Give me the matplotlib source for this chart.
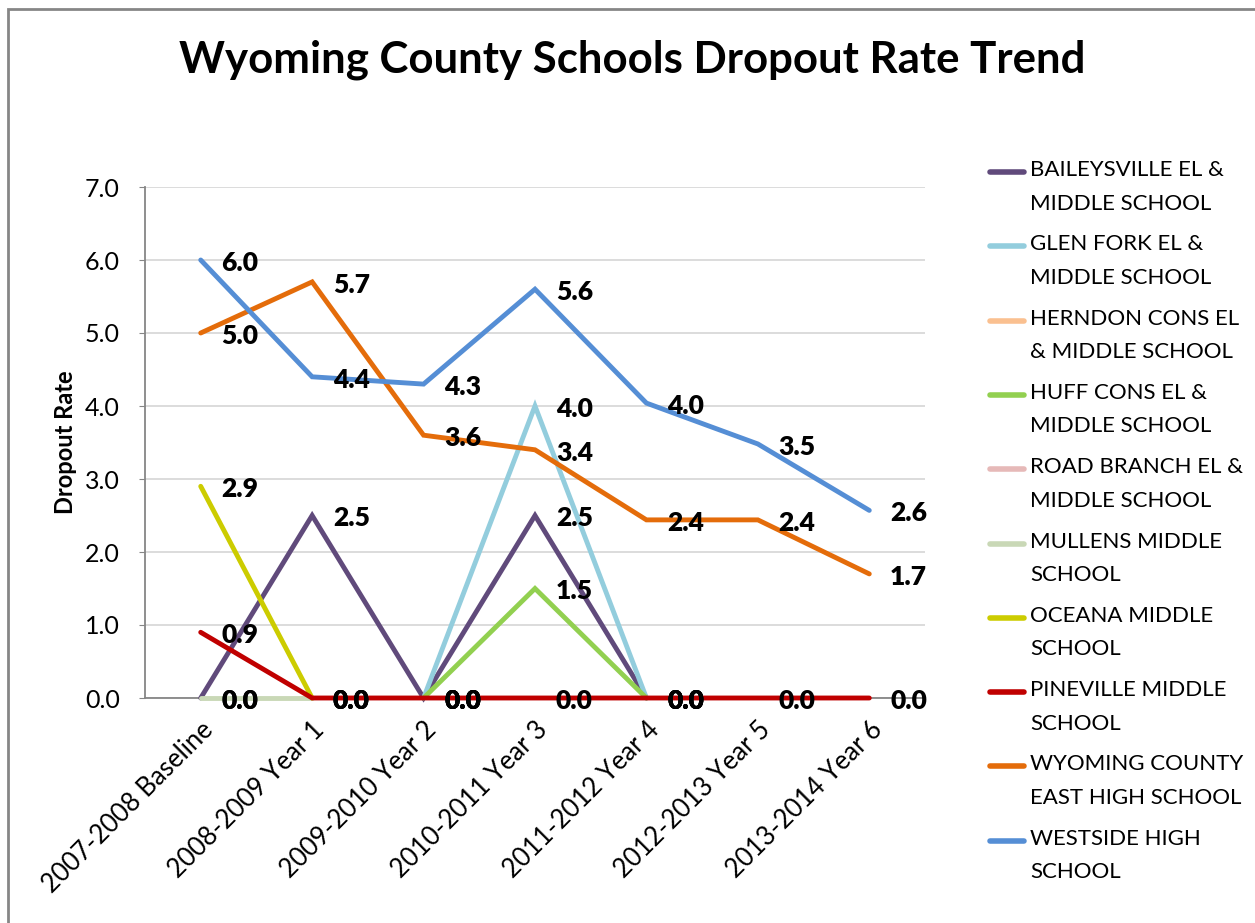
from matplotlib import pyplot as plt
from matplotlib.lines import Line2D
from matplotlib.patches import Rectangle
import numpy as np

plt.rcParams['font.family'] = ['Lato', 'DejaVu Sans']

nan = np.nan

# Chart data.
years = ['2007-2008 Baseline', '2008-2009 Year 1', '2009-2010 Year 2', '2010-2011 Year 3',
         '2011-2012 Year 4', '2012-2013 Year 5', '2013-2014 Year 6']

schools = ['BAILEYSVILLE EL &\nMIDDLE SCHOOL',
           'GLEN FORK EL &\nMIDDLE SCHOOL',
           'HERNDON CONS EL\n& MIDDLE SCHOOL',
           'HUFF CONS EL &\nMIDDLE SCHOOL',
           'ROAD BRANCH EL &\nMIDDLE SCHOOL',
           'MULLENS MIDDLE\nSCHOOL',
           'OCEANA MIDDLE\nSCHOOL',
           'PINEVILLE MIDDLE\nSCHOOL',
           'WYOMING COUNTY\nEAST HIGH SCHOOL',
           'WESTSIDE HIGH\nSCHOOL']

baileysville = [0.0, 2.5, 0.0, 2.5, 0.0, nan, nan]
glen_fork = [nan, nan, 0.0, 4.0, 0.0, nan, nan]
herndon = [nan, nan, nan, nan, nan, nan, nan]
huff = [nan, nan, 0.0, 1.5, 0.0, nan, nan]
road_branch = [nan, nan, nan, nan, nan, nan, nan]
mullens = [0.0, 0.0, nan, nan, nan, nan, nan]
oceana = [2.9, 0.0, nan, nan, nan, nan, nan]
pineville = [0.9, 0.0, 0.0, 0.0, 0.0, 0.0, 0.0]
wyoming_east = [5.0, 5.7, 3.6, 3.4, 2.44, 2.44, 1.7]
westside = [6.0, 4.4, 4.3, 5.6, 4.04, 3.48, 2.57]

series = [baileysville, glen_fork, herndon, huff, road_branch,
          mullens, oceana, pineville, wyoming_east, westside]

colors = ['#604a7b', '#93cddd', '#fac090', '#92d050', '#e6b9b8',
          '#c9d8b6', '#cccc00', '#c00000', '#e46c0a', '#558ed5']

W, H = 1255, 923
fig = plt.figure(figsize=(W / 100, H / 100), dpi=100)

# outer chart border (right / bottom edges are cut off in the original)
fig.add_artist(Rectangle((8 / W, -0.1), 1.2, (H - 9) / H + 0.1, transform=fig.transFigure,
                         fill=False, edgecolor='#868686', linewidth=2))

ax = fig.add_axes([145 / W, (H - 698) / H, (925 - 145) / W, (698 - 187) / H])

x = np.arange(len(years))
for values, color in zip(series, colors):
    ax.plot(x, values, color=color, linewidth=3.5, solid_capstyle='round',
            solid_joinstyle='miter', zorder=3, clip_on=False)

for values in series:
    for xi, v in zip(x, values):
        if not np.isnan(v):
            ax.annotate(f'{v:.1f}', (xi, v), xytext=(15, -2), textcoords='offset points',
                        ha='left', va='center', fontsize=19, fontweight='heavy',
                        zorder=5, annotation_clip=False)

ax.set_xlim(-0.5, len(years) - 0.5)
ax.set_ylim(0, 7)
ax.set_yticks(np.arange(0, 7.5, 1.0))
ax.set_yticklabels([f'{t:.1f}' for t in np.arange(0, 7.5, 1.0)], fontsize=18)
ax.set_xticks(x)
ax.set_xticklabels(years, rotation=45, ha='right', rotation_mode='anchor', fontsize=18.5)
ax.tick_params(axis='x', length=0, pad=14)
ax.tick_params(axis='y', length=4, color='#868686', pad=14)
ax.grid(axis='y', color='#d9d9d9', linewidth=1.3)
ax.set_axisbelow(True)
for side in ['top', 'right']:
    ax.spines[side].set_visible(False)
for side in ['left', 'bottom']:
    ax.spines[side].set_color('#868686')
    ax.spines[side].set_linewidth(1.3)
ax.set_ylabel('Dropout Rate', fontsize=17, fontweight='bold', labelpad=6)

fig.text(632 / W, 1 - 60 / H, 'Wyoming County Schools Dropout Rate Trend',
         ha='center', va='center', fontsize=31.5, fontweight='bold')

# legend, with the key aligned to the first text line
for i, (name, color) in enumerate(zip(schools, colors)):
    y = 172 + 74.3 * i
    fig.add_artist(Line2D([990 / W, 1024 / W], [1 - y / H, 1 - y / H], color=color,
                          linewidth=4, solid_capstyle='round', transform=fig.transFigure))
    fig.text(1030 / W, 1 - (y - 12) / H, name, ha='left', va='top', fontsize=16,
             linespacing=1.85)

fig.savefig('out.png', dpi=100)
